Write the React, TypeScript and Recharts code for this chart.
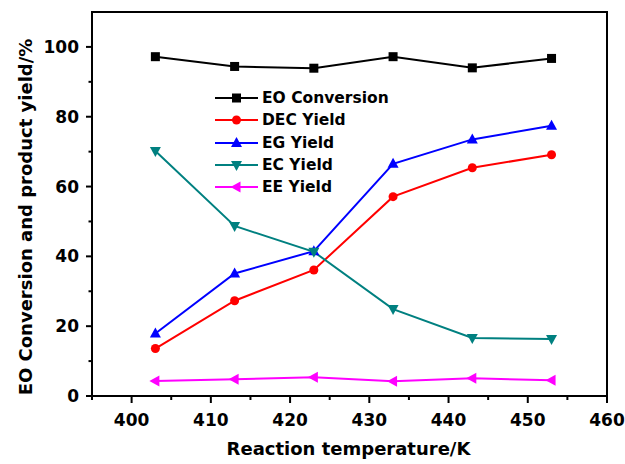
import React from 'react';
import { LineChart, Line, XAxis, YAxis, Legend, ReferenceArea } from 'recharts';

const temperatures = [403, 413, 423, 433, 443, 453];
const eoConversion = [97.2, 94.4, 93.9, 97.2, 94.0, 96.7];
const decYield = [13.6, 27.3, 36.1, 57.1, 65.4, 69.1];
const egYield = [17.9, 35.1, 41.5, 66.5, 73.5, 77.4];
const ecYield = [70.2, 48.7, 41.3, 24.9, 16.6, 16.3];
const eeYield = [4.3, 4.8, 5.4, 4.2, 5.1, 4.5];

const xTicks = [395, 400, 405, 410, 415, 420, 425, 430, 435, 440, 445, 450, 455, 460];
const yTicks = [0, 10, 20, 30, 40, 50, 60, 70, 80, 90, 100];
const xDomain = [395, 460];
const yDomain = [0, 110];

const seriesNames = ['EO Conversion', 'DEC Yield', 'EG Yield', 'EC Yield', 'EE Yield'];
const seriesKeys = ['eo', 'dec', 'eg', 'ec', 'ee'];
const seriesColors = ['#000000', '#ff0000', '#0000ff', '#008080', '#ff00ff'];
const seriesShapes = ['square', 'circle', 'up', 'down', 'left'];

const data = temperatures.map((t, i) => ({
  T: t,
  eo: eoConversion[i],
  dec: decYield[i],
  eg: egYield[i],
  ec: ecYield[i],
  ee: eeYield[i],
}));

const FONT = '"DejaVu Sans", "Liberation Sans", Arial, sans-serif';

function Marker({ shape, cx, cy, color }: { shape: string; cx: number; cy: number; color: string }) {
  if (cx == null || cy == null) return null;
  switch (shape) {
    case 'square':
      return <rect x={cx - 4.5} y={cy - 4.5} width={9} height={9} fill={color} />;
    case 'circle':
      return <circle cx={cx} cy={cy} r={4.5} fill={color} />;
    case 'up':
      return <polygon points={`${cx},${cy - 6} ${cx - 5.5},${cy + 4} ${cx + 5.5},${cy + 4}`} fill={color} />;
    case 'down':
      return <polygon points={`${cx},${cy + 6} ${cx - 5.5},${cy - 4} ${cx + 5.5},${cy - 4}`} fill={color} />;
    case 'left':
      return <polygon points={`${cx - 6},${cy} ${cx + 4},${cy - 5.5} ${cx + 4},${cy + 5.5}`} fill={color} />;
    default:
      return null;
  }
}

const Y_TICK_SIZE = 6;
const Y_TICK_MARGIN = 7;
const X_TICK_SIZE = 6;
const X_TICK_MARGIN = 12;

const YTick = (props: any) => {
  const { x, y, payload } = props;
  const v = payload.value;
  const major = v % 20 === 0;
  const axisX = x + Y_TICK_SIZE + Y_TICK_MARGIN;
  return (
    <g>
      <line x1={axisX} x2={axisX - (major ? 6 : 3.5)} y1={y} y2={y} stroke="#000" strokeWidth={2} />
      {major && (
        <text x={x} y={y} dy="0.36em" textAnchor="end" fontFamily={FONT} fontWeight="bold" fontSize={17} fill="#000">
          {v}
        </text>
      )}
    </g>
  );
};

const XTick = (props: any) => {
  const { x, y, payload } = props;
  const v = payload.value;
  const major = v % 10 === 0;
  const axisY = y - X_TICK_SIZE - X_TICK_MARGIN;
  return (
    <g>
      <line x1={x} x2={x} y1={axisY} y2={axisY + (major ? 7 : 4)} stroke="#000" strokeWidth={2} />
      {major && (
        <text x={x} y={y} dy="0.72em" textAnchor="middle" fontFamily={FONT} fontWeight="bold" fontSize={17} fill="#000">
          {v}
        </text>
      )}
    </g>
  );
};

const YTitle = (props: any) => {
  const vb = props.viewBox || { x: 0, y: 12, width: 92, height: 384 };
  const cx = vb.x + 32;
  const cy = vb.y + vb.height / 2 + 13;
  return (
    <text
      x={cx}
      y={cy}
      transform={`rotate(-90, ${cx}, ${cy})`}
      textAnchor="middle"
      fontFamily={FONT}
      fontWeight="bold"
      fontSize={18}
      fill="#000"
    >
      EO Conversion and product yield/%
    </text>
  );
};

const XTitle = (props: any) => {
  const vb = props.viewBox || { x: 92, y: 396, width: 515, height: 68 };
  const cx = vb.x + vb.width / 2 - 1;
  const cy = vb.y + 59;
  return (
    <text x={cx} y={cy} textAnchor="middle" fontFamily={FONT} fontWeight="bold" fontSize={18} fill="#000">
      Reaction temperature/K
    </text>
  );
};

const LegendContent = () => (
  <div style={{ fontFamily: FONT, fontWeight: 'bold', fontSize: 15.5, color: '#000' }}>
    {seriesNames.map((name, i) => (
      <div key={name} style={{ display: 'flex', alignItems: 'center', height: 22.3, whiteSpace: 'nowrap' }}>
        <svg width={44} height={22} style={{ display: 'block' }}>
          <line x1={0} x2={43} y1={11} y2={11} stroke={seriesColors[i]} strokeWidth={2} />
          <Marker shape={seriesShapes[i]} cx={21.5} cy={11} color={seriesColors[i]} />
        </svg>
        <span style={{ marginLeft: 3, lineHeight: '22px' }}>{name}</span>
      </div>
    ))}
  </div>
);

export default function App() {
  return (
    <div style={{ position: 'absolute', left: 0, top: 0, background: '#fff' }}>
      <LineChart width={625} height={464} data={data} margin={{ top: 12, right: 18, bottom: 0, left: 0 }}>
        <XAxis
          dataKey="T"
          type="number"
          domain={xDomain}
          ticks={xTicks}
          interval={0}
          height={68}
          axisLine={{ stroke: '#000', strokeWidth: 2 }}
          tickLine={false}
          tickSize={X_TICK_SIZE}
          tickMargin={X_TICK_MARGIN}
          tick={<XTick />}
          allowDataOverflow
          label={<XTitle />}
        />
        <YAxis
          type="number"
          domain={yDomain}
          ticks={yTicks}
          interval={0}
          width={92}
          axisLine={{ stroke: '#000', strokeWidth: 2 }}
          tickLine={false}
          tickSize={Y_TICK_SIZE}
          tickMargin={Y_TICK_MARGIN}
          tick={<YTick />}
          allowDataOverflow
          label={<YTitle />}
        />
        <ReferenceArea
          x1={xDomain[0]}
          x2={xDomain[1]}
          y1={yDomain[0]}
          y2={yDomain[1]}
          fill="none"
          fillOpacity={0}
          stroke="#000"
          strokeWidth={2}
          ifOverflow="visible"
        />
        <Legend
          layout="vertical"
          align="center"
          verticalAlign="middle"
          content={<LegendContent />}
          wrapperStyle={{ position: 'absolute', left: 215, top: 87, width: 'auto' }}
        />
        {seriesKeys.map((k, i) => (
          <Line
            key={k}
            dataKey={k}
            name={seriesNames[i]}
            stroke={seriesColors[i]}
            strokeWidth={2}
            isAnimationActive={false}
            dot={(p: any) => <Marker key={`${k}-${p.index}`} shape={seriesShapes[i]} cx={p.cx} cy={p.cy} color={seriesColors[i]} />}
            activeDot={false}
          />
        ))}
      </LineChart>
    </div>
  );
}
